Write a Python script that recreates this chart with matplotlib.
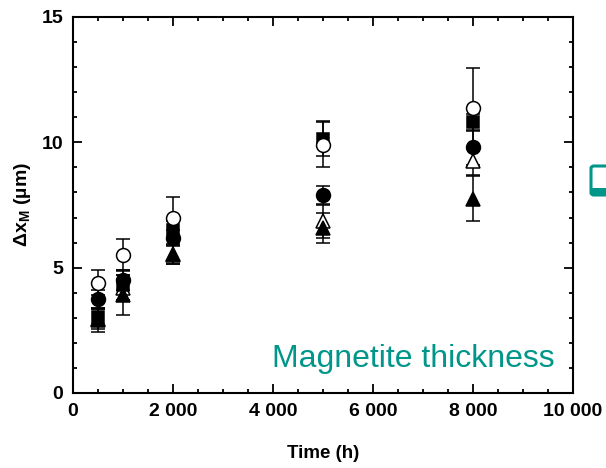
import numpy as np
import matplotlib.pyplot as plt
from matplotlib.patches import FancyBboxPatch
from matplotlib.ticker import MultipleLocator, FuncFormatter

plt.rcParams['font.family'] = ['Liberation Sans', 'DejaVu Sans']
plt.rcParams['mathtext.default'] = 'regular'

# oxidation time (h)
time_h = [500, 1000, 2000, 5000, 8000]

# magnetite layer thickness (um) and error bars for each sample
sq_fill = [3.05, 4.3, 6.5, 10.15, 10.8]
sq_fill_err = [0.35, 0.6, 0.35, 0.7, 0.33]
circ_open = [4.4, 5.5, 7.0, 9.9, 11.35]
circ_open_err = [0.5, 0.65, 0.8, 0.9, 1.6]
circ_fill = [3.75, 4.5, 6.2, 7.9, 9.8]
circ_fill_err = [0.35, 0.4, 0.3, 0.35, 0.7]
tri_open = [2.95, 4.2, 5.5, 6.85, 9.25]
tri_open_err = [0.4, 0.5, 0.35, 0.65, 0.55]
tri_fill = [2.9, 3.9, 5.55, 6.6, 7.75]
tri_fill_err = [0.45, 0.8, 0.4, 0.6, 0.9]

series = [
    (tri_open, tri_open_err, '^', 'white', 10),
    (tri_fill, tri_fill_err, '^', 'black', 10),
    (sq_fill, sq_fill_err, 's', 'black', 9),
    (circ_fill, circ_fill_err, 'o', 'black', 10),
    (circ_open, circ_open_err, 'o', 'white', 10),
]

fig = plt.figure(figsize=(6.06, 4.68), dpi=100)
ax = fig.add_axes([0.1205, 0.1603, 0.825, 0.8034])

for vals, err, mk, fc, ms in series:
    ax.errorbar(time_h, vals, yerr=err, fmt=mk, mfc=fc, mec='black', mew=1.1,
                ms=ms, ecolor='black', elinewidth=1.1, capsize=4.7, capthick=1.1)

ax.set_xlim(0, 10000)
ax.set_ylim(0, 15)
ax.xaxis.set_major_locator(MultipleLocator(2000))
ax.xaxis.set_minor_locator(MultipleLocator(500))
ax.yaxis.set_major_locator(MultipleLocator(5))
ax.yaxis.set_minor_locator(MultipleLocator(1))
ax.xaxis.set_major_formatter(FuncFormatter(lambda v, p: f'{int(v):,}'.replace(',', ' ')))

for s in ax.spines.values():
    s.set_linewidth(1.5)
ax.tick_params(which='both', direction='in', top=True, right=True, width=1.3)
ax.tick_params(which='major', length=6.5, labelsize=14, pad=7)
ax.tick_params(which='minor', length=3)
for lab in ax.get_xticklabels() + ax.get_yticklabels():
    lab.set_fontweight('bold')

ax.set_xlabel('Time (h)', fontsize=13.5, fontweight='bold', labelpad=18)
ax.set_ylabel('Δx$_{M}$ (µm)', fontsize=14, fontweight='bold', labelpad=6)

ax.text(0.398, 0.09, 'Magnetite thickness', transform=ax.transAxes,
        color='#00968a', fontsize=23, ha='left', va='center')

# partial callout box at the right edge of the figure
box = FancyBboxPatch((591 / 606, 1 - 195 / 468), 0.06, 29 / 468,
                     boxstyle='round,pad=0,rounding_size=0.005',
                     transform=fig.transFigure, facecolor='white',
                     edgecolor='#00968a', linewidth=2.2, clip_on=False)
fig.patches.append(box)
fig.patches.append(FancyBboxPatch((591 / 606, 1 - 195 / 468), 0.06, 7 / 468,
                                  boxstyle='square,pad=0', transform=fig.transFigure,
                                  facecolor='#00968a', edgecolor='none'))

fig.savefig('out.png', dpi=100)
